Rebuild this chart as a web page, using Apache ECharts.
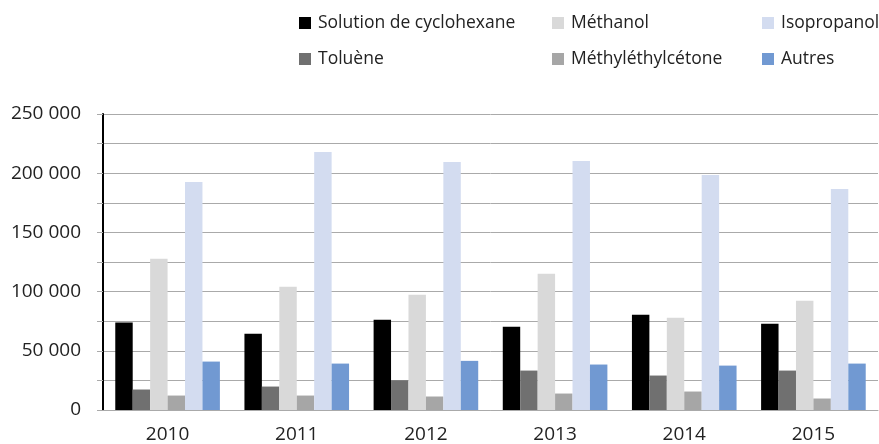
<!DOCTYPE html>
<html>
<head>
<meta charset="utf-8">
<script src="https://cdn.jsdelivr.net/npm/echarts@6/dist/echarts.min.js"></script>
<style>
  html, body { margin: 0; padding: 0; background: #fff; }
  #chart { width: 879px; height: 444px; }
</style>
</head>
<body>
<div id="chart"></div>
<script>
// Years on the x axis
const years = ['2010', '2011', '2012', '2013', '2014', '2015'];

// Solvent quantities per year
const cyclohexane = [74000, 64500, 76300, 70400, 80500, 72900];
const toluene = [17300, 19800, 25100, 33300, 29100, 33300];
const methanol = [127700, 104100, 97400, 115100, 78000, 92300];
const mek = [12200, 12200, 11400, 13900, 15600, 9700];
const isopropanol = [192600, 217900, 209500, 210300, 198500, 186700];
const autres = [40900, 39200, 41500, 38400, 37500, 39200];

const seriesDefs = [
    { name: 'Solution de cyclohexane', data: cyclohexane, color: '#000000' },
    { name: 'Toluène', data: toluene, color: '#707070' },
    { name: 'Méthanol', data: methanol, color: '#d9d9d9' },
    { name: 'Méthyléthylcétone', data: mek, color: '#a6a6a6' },
    { name: 'Isopropanol', data: isopropanol, color: '#d3dcf0' },
    { name: 'Autres', data: autres, color: '#7199d2' }
];

const font = '"Open Sans", "Noto Sans", sans-serif';
const fmt = v => (v % 50000 !== 0) ? '' : String(v).replace(/\B(?=(\d{3})+(?!\d))/g, ' ');

const legendBase = {
    orient: 'vertical',
    top: 9,
    itemWidth: 12,
    itemHeight: 12,
    itemGap: 18,
    icon: 'rect',
    textStyle: { fontFamily: font, fontSize: 17.5, color: '#222', padding: [0, 0, 0, 2] }
};

const chart = echarts.init(document.getElementById('chart'));
chart.setOption({
    animation: false,
    legend: [
        Object.assign({}, legendBase, { left: 294, data: ['Solution de cyclohexane', 'Toluène'] }),
        Object.assign({}, legendBase, { left: 547, data: ['Méthanol', 'Méthyléthylcétone'] }),
        Object.assign({}, legendBase, { left: 757, data: ['Isopropanol', 'Autres'] })
    ],
    grid: { left: 103, right: 1, top: 114, bottom: 34 },
    xAxis: {
        type: 'category',
        data: years,
        axisLine: { lineStyle: { color: '#aaaaaa', width: 1 } },
        axisTick: { show: false },
        axisLabel: { fontFamily: font, fontSize: 19, color: '#222', margin: 15 }
    },
    yAxis: {
        type: 'value',
        min: 0,
        max: 250000,
        interval: 25000,
        axisLine: { show: true, lineStyle: { color: '#000', width: 2 } },
        axisTick: { show: true, length: 6, lineStyle: { color: '#aaaaaa' } },
        splitLine: { lineStyle: { color: '#aaaaaa', width: 1 } },
        axisLabel: { fontFamily: font, fontSize: 19, color: '#222', margin: 22, formatter: fmt }
    },
    series: seriesDefs.map(s => ({
        name: s.name,
        type: 'bar',
        data: s.data,
        barGap: '0%',
        barCategoryGap: '19%',
        itemStyle: { color: s.color }
    }))
});
</script>
</body>
</html>
